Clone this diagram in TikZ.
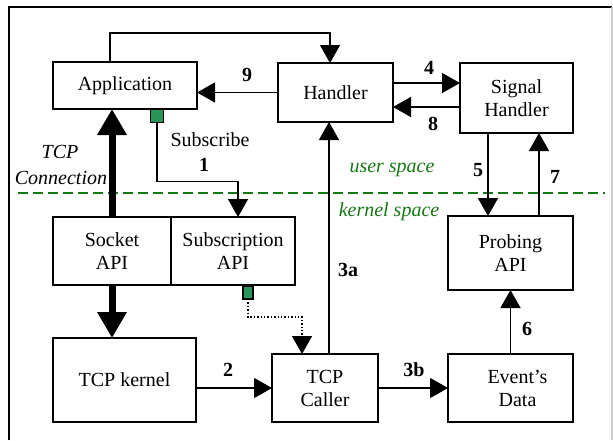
\documentclass[tikz,border=0pt]{standalone}
\usepackage{fontspec}
\setmainfont{Liberation Serif}
\usetikzlibrary{arrows.meta,calc}
\definecolor{spacegreen}{RGB}{20,120,20}
\definecolor{portgreen}{RGB}{40,150,90}
\tikzset{
  box/.style={draw,line width=1.6pt,inner sep=0pt,outer sep=0pt,align=center,
    font=\fontsize{20}{23}\selectfont},
  port/.style={draw,line width=1.2pt,fill=portgreen,inner sep=0pt,outer sep=0pt},
  arr/.style={line width=1.4pt,-{Triangle[length=18pt,width=20pt]}},
  bigarr/.style={line width=7pt,-{Triangle[length=26pt,width=28pt]}},
  num/.style={font=\fontsize{20}{23}\selectfont\bfseries},
  lbl/.style={font=\fontsize{20}{23}\selectfont},
  space/.style={font=\fontsize{20}{23}\selectfont\itshape,text=spacegreen}
}
\begin{document}
\begin{tikzpicture}[x=1pt,y=-1pt]
\useasboundingbox (0,0) rectangle (613,440);
% frame
\draw[line width=1.8pt] (9,440) -- (9,7) -- (612,7);
\draw[line width=1.2pt,black!20] (612,7) -- (612,440);

% user/kernel boundary
\draw[spacegreen,line width=1.8pt,dash pattern=on 10pt off 5pt] (18,193) -- (605,193);
\node[space] (us) at (392,170) {user space};
\node[space] (ks) at (389,212) {kernel space};

% boxes
\node[box,minimum width=144pt,minimum height=47pt] (app) at (125,85.5) {Application};
\node[box,minimum width=115pt,minimum height=59pt] (hand) at (335.5,92.5) {Handler};
\node[box,minimum width=113pt,minimum height=70pt] (sig) at (516.5,98) {Signal\\Handler};
\node[box,minimum width=118pt,minimum height=68pt] (sock) at (112,251) {Socket\\API};
\node[box,minimum width=124pt,minimum height=68pt] (subs) at (233,251) {Subscription\\API};
\node[box,minimum width=125pt,minimum height=74pt] (probe) at (510.5,253) {Probing\\API};
\node[box,minimum width=143pt,minimum height=84pt] (kern) at (124.5,380) {TCP kernel};
\node[box,minimum width=106pt,minimum height=68pt] (caller) at (325,388) {TCP\\Caller};
\node[box,minimum width=125pt,minimum height=68pt] (event) at (510.5,388) {\hspace*{14pt}Event’s\\\hspace*{14pt}Data};

% subscription ports
\node[port,minimum width=13pt,minimum height=13pt] (gs1) at (157,116) {};
\node[port,minimum width=10pt,minimum height=13pt] (gs2) at (248,292.5) {};

% connectors
\draw[arr] ([xshift=-15pt]app.north) -- ++(0,-29) -| ([xshift=-5.5pt]hand.north);
\draw[arr] (hand.west) -- (hand.west -| app.east);
\coordinate (p4) at ([yshift=9.5pt]hand.east);
\draw[arr] (p4) -- (p4 -| sig.west);
\coordinate (p8) at ([yshift=-14.5pt]hand.east);
\draw[arr] (p8 -| sig.west) -- (p8);
\draw[arr] (gs1.south) -- ++(0,59) -| ([xshift=5pt]subs.north);
\draw[bigarr] (sock.north) -- (sock.north |- app.south);
\draw[bigarr] (sock.south) -- (sock.south |- kern.north);
\draw[line width=1.4pt,dotted,-{Triangle[length=18pt,width=20pt]}]
  (gs2.south) -- ++(0,18) -| ([xshift=-23pt]caller.north);
\coordinate (p3a) at ([xshift=4pt]caller.north);
\draw[arr] (p3a) -- (p3a |- hand.south);
\draw[arr] (caller.west -| kern.east) -- (caller.west);
\draw[arr] (caller.east) -- (caller.east -| event.west);
\draw[arr] (event.north) -- (probe.south);
\coordinate (p5) at ([xshift=-28.5pt]sig.south);
\draw[arr] (p5) -- (p5 |- probe.north);
\coordinate (p7) at ([xshift=22.5pt]sig.south);
\draw[arr] (p7 |- probe.north) -- (p7);

% labels
\node[num] (n9) at (247,75) {9};
\node[num] (n4) at (429,68) {4};
\node[num] (n8) at (433,124) {8};
\node[lbl] (subl) at (210,140) {Subscribe};
\node[num] (n1) at (204,165) {1};
\node[num] (n5) at (478,170) {5};
\node[num] (n7) at (555,177) {7};
\node[num] (n3a) at (348,270) {3a};
\node[num] (n2) at (228,370) {2};
\node[num] (n3b) at (414,370) {3b};
\node[num] (n6) at (527,329) {6};
\node[lbl,font=\fontsize{20}{23}\selectfont\itshape] (tcp) at (60,152) {TCP};
\node[lbl,font=\fontsize{20}{23}\selectfont\itshape] (conn) at (61,178) {Connection};
\end{tikzpicture}
\end{document}
